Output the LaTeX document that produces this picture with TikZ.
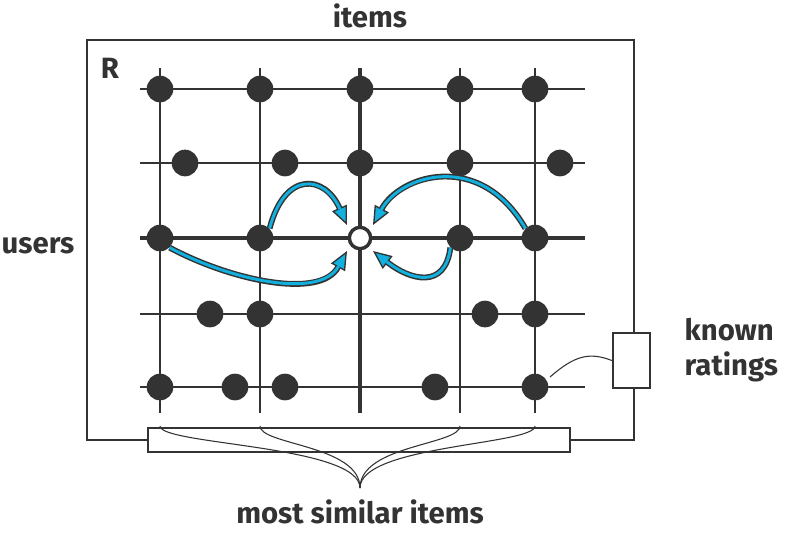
\documentclass[tikz,border=0pt]{standalone}
\usepackage{fontspec}
\setmainfont{Fira Sans}
\usetikzlibrary{arrows.meta}
\definecolor{dk}{HTML}{333333}
\definecolor{cy}{HTML}{12B0DE}
\begin{document}
\begin{tikzpicture}[x=0.75pt,y=-0.75pt,
  dot/.style={circle,fill=dk,inner sep=0,minimum size=20pt},
  grid/.style={draw=dk,line width=1.1pt},
  thick grid/.style={draw=dk,line width=2.8pt},
  lab/.style={font=\fontsize{22}{26}\selectfont\bfseries,text=dk},
  arrout/.style={draw=dk,line width=4.4pt,-{Triangle[length=14pt,width=12pt,line width=1pt,fill=cy]}},
  arrin/.style={draw=cy,line width=2.2pt,shorten >=13pt}]
\useasboundingbox (0,0) rectangle (788,533);
% outer rectangle
\draw[dk,line width=1.5pt] (87,40) rectangle (634,440);
% grid
\foreach \x in {160,260,460,535} \draw[grid] (\x,68) -- (\x,413);
\draw[thick grid] (360,68) -- (360,413);
\foreach \y in {89,163,314,387} \draw[grid] (140,\y) -- (585,\y);
\draw[thick grid] (140,238) -- (585,238);
% dots
\foreach \x/\n in {160/a,260/b,360/c,460/d,535/e} \node[dot] (r1\n) at (\x,89) {};
\foreach \x/\n in {185/a,285/b,360/c,460/d,560/e} \node[dot] (r2\n) at (\x,163) {};
\foreach \x/\n in {160/a,260/b,460/d,535/e} \node[dot] (r3\n) at (\x,238) {};
\node[circle,draw=dk,fill=white,line width=2.6pt,inner sep=0,minimum size=16pt] (t) at (360,238) {};
\foreach \x/\n in {210/a,260/b,485/d,535/e} \node[dot] (r4\n) at (\x,314) {};
\foreach \x/\n in {160/a,235/b,285/c,435/d,535/e} \node[dot] (r5\n) at (\x,387) {};
% arrows
\coordinate (ta) at (347,251);
\coordinate (tb) at (347,225);
\coordinate (tc) at (373,225);
\coordinate (td) at (373,251);
\foreach \s in {arrout,arrin}{
 \draw[\s] (r3a.south east) .. controls (230,280) and (320,300) .. (ta);
 \draw[\s] (r3b.north east) .. controls (285,170) and (325,175) .. (tb);
 \draw[\s] (r3e.north west) .. controls (480,150) and (400,175) .. (tc);
 \draw[\s] (r3d.south west) .. controls (445,290) and (410,280) .. (td);
}
% bottom box and braces
\node[draw=dk,fill=white,line width=1.5pt,minimum width=317pt,minimum height=18pt,inner sep=0] (sim) at (359,440) {};
\coordinate (tip) at (360,488);
\foreach \x in {160,260,460,535}
  \draw[dk,line width=0.8pt] (\x,426) .. controls (\x,445) and (360,445) .. (tip);
% known ratings box
\node[draw=dk,fill=white,line width=1.5pt,minimum width=28pt,minimum height=41pt,inner sep=0] (kr) at (631.5,360.5) {};
\draw[dk,line width=0.8pt] (550,377) .. controls (575,355) and (590,352) .. (kr.west);
% labels
\node[lab] at (370,16) {items};
\node[lab] at (38,246) {users};
\node[lab] at (110,68) {R};
\node[lab,align=left,anchor=west] at (680,350) {known\\ratings};
\node[lab] at (360,512) {most similar items};
\end{tikzpicture}
\end{document}
